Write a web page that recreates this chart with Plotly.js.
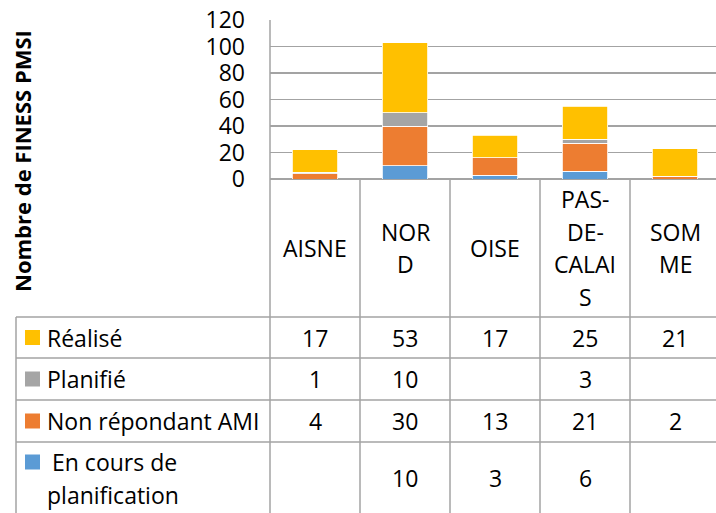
<!DOCTYPE html>
<html>
<head>
<meta charset="utf-8">
<script src="https://cdn.plot.ly/plotly-3.0.1.min.js"></script>
<style>html,body{margin:0;padding:0;background:#fff;}#chart{width:716px;height:513px;}</style>
</head>
<body>
<div id="chart"></div>
<script>
// ---- data ----
const categories = ['AISNE', 'NORD', 'OISE', 'PAS-DE-CALAIS', 'SOMME'];
const categoryLabels = ['AISNE', 'NOR<br>D', 'OISE', 'PAS-<br>DE-<br>CALAI<br>S', 'SOM<br>ME'];
const enCours = [null, 10, 3, 6, null];
const nonRepondant = [4, 30, 13, 21, 2];
const planifie = [1, 10, null, 3, null];
const realise = [17, 53, 17, 25, 21];
const seriesNames = ['Réalisé', 'Planifié', 'Non répondant AMI', 'En cours de<br>planification'];
const yTicks = [0, 20, 40, 60, 80, 100, 120];
const yTitle = 'Nombre de FINESS PMSI';

// ---- styles ----
const colors = {
  'Réalisé': '#FFC000',
  'Planifié': '#A5A5A5',
  'Non répondant AMI': '#ED7D31',
  'En cours': '#5B9BD5'
};
const FONT = 'Open Sans, Liberation Sans, sans-serif';
const FS = 23;
const lineCol = '#A3A3A3';

const W = 716, H = 513;
const L = 270, T = 20, B = 179;        // plot area pixels
const plotW = W - L, plotH = B - T;
const colW = 90;                        // category width in px
const px2x = px => (px - L) / plotW;    // paper x
const py2y = py => (B - py) / plotH;    // paper y

const z = a => a.map(v => v == null ? 0 : v);

const traces = [
  {name: 'En cours', y: z(enCours), color: colors['En cours']},
  {name: 'Non répondant AMI', y: z(nonRepondant), color: colors['Non répondant AMI']},
  {name: 'Planifié', y: z(planifie), color: colors['Planifié']},
  {name: 'Réalisé', y: z(realise), color: colors['Réalisé']}
].map(s => ({
  type: 'bar', x: categories, y: s.y, name: s.name,
  marker: {color: s.color, line: {color: '#ffffff', width: 0.8}},
  hoverinfo: 'x+y+name'
}));

// table geometry (pixels)
const rowTops = [317, 358, 400, 442];
const rowBottoms = [358, 400, 442, 520];
const tableLeft = 16;
const rowsData = [realise, planifie, nonRepondant, enCours];
const rowKeys = ['Réalisé', 'Planifié', 'Non répondant AMI', 'En cours'];

const shapes = [];
const annotations = [];
const lineStyle = {color: lineCol, width: 1.5};

// horizontal lines
rowTops.forEach(py => shapes.push({type: 'line', xref: 'paper', yref: 'paper',
  x0: px2x(tableLeft), x1: px2x(W + 5), y0: py2y(py), y1: py2y(py), line: lineStyle}));
// vertical lines
shapes.push({type: 'line', xref: 'paper', yref: 'paper', x0: 0, x1: 0, y0: 1, y1: py2y(H + 5), line: lineStyle});
shapes.push({type: 'line', xref: 'paper', yref: 'paper', x0: px2x(tableLeft), x1: px2x(tableLeft), y0: py2y(317), y1: py2y(H + 5), line: lineStyle});
for (let k = 1; k < categories.length; k++) {
  const px = L + k * colW;
  shapes.push({type: 'line', xref: 'paper', yref: 'paper', x0: px2x(px), x1: px2x(px), y0: 0, y1: py2y(H + 5), line: lineStyle});
}

// category labels (vertically centered in band 179..317)
categoryLabels.forEach((lab, i) => {
  const lines = lab.split('<br>');
  const lh = 32.5;
  const cy = (179 + 317) / 2;
  lines.forEach((ln, j) => {
    const py = cy + (j - (lines.length - 1) / 2) * lh;
    annotations.push({xref: 'paper', yref: 'paper', x: px2x(L + colW * (i + 0.5)), y: py2y(py),
      text: ln, showarrow: false, xanchor: 'center', yanchor: 'middle',
      font: {family: FONT, size: FS, color: '#000'}});
  });
});

// table rows
rowsData.forEach((vals, r) => {
  const lastRow = r === rowsData.length - 1;
  const cy = lastRow ? 478 : (rowTops[r] + rowBottoms[r]) / 2;
  // legend key
  const keyY = lastRow ? 462 : cy;
  shapes.push({type: 'rect', xref: 'paper', yref: 'paper',
    x0: px2x(25), x1: px2x(40), y0: py2y(keyY - 7.5), y1: py2y(keyY + 7.5),
    fillcolor: colors[rowKeys[r]], line: {width: 0}});
  const nameLines = seriesNames[r].split('<br>');
  nameLines.forEach((ln, j) => {
    const py = lastRow ? 462 + j * 33 : cy;
    annotations.push({xref: 'paper', yref: 'paper', x: px2x(lastRow && j === 0 ? 50 : 45), y: py2y(py),
      text: ln, showarrow: false, xanchor: 'left', yanchor: 'middle',
      font: {family: FONT, size: FS, color: '#000'}});
  });
  vals.forEach((v, i) => {
    if (v == null) return;
    annotations.push({xref: 'paper', yref: 'paper', x: px2x(L + colW * (i + 0.5)), y: py2y(cy),
      text: String(v), showarrow: false, xanchor: 'center', yanchor: 'middle',
      font: {family: FONT, size: FS, color: '#000'}});
  });
});

// y axis title
annotations.push({xref: 'paper', yref: 'paper', x: px2x(22), y: py2y(161),
  text: '<b>' + yTitle + '</b>', textangle: -90, showarrow: false,
  xanchor: 'center', yanchor: 'middle', font: {family: FONT, size: 22, color: '#000'}});

const layout = {
  width: W, height: H,
  margin: {l: L, r: 0, t: T, b: H - B, pad: 0},
  paper_bgcolor: '#fff', plot_bgcolor: '#fff',
  barmode: 'stack', bargap: 0.49,
  showlegend: false,
  xaxis: {type: 'category', range: [-0.5, -0.5 + plotW / colW], showticklabels: false,
    ticks: '', showgrid: false, zeroline: false, showline: false, fixedrange: true},
  yaxis: {range: [0, 120], tickvals: yTicks, ticktext: yTicks.map(String),
    ticks: '', ticklabelstandoff: 24,
    tickfont: {family: FONT, size: FS, color: '#000'},
    showgrid: true, gridcolor: lineCol, gridwidth: 1.5,
    zeroline: true, zerolinecolor: lineCol, zerolinewidth: 1.5,
    showline: false, fixedrange: true},
  shapes: shapes,
  annotations: annotations
};

Plotly.newPlot('chart', traces, layout, {displayModeBar: false, staticPlot: true});
</script>
</body>
</html>
